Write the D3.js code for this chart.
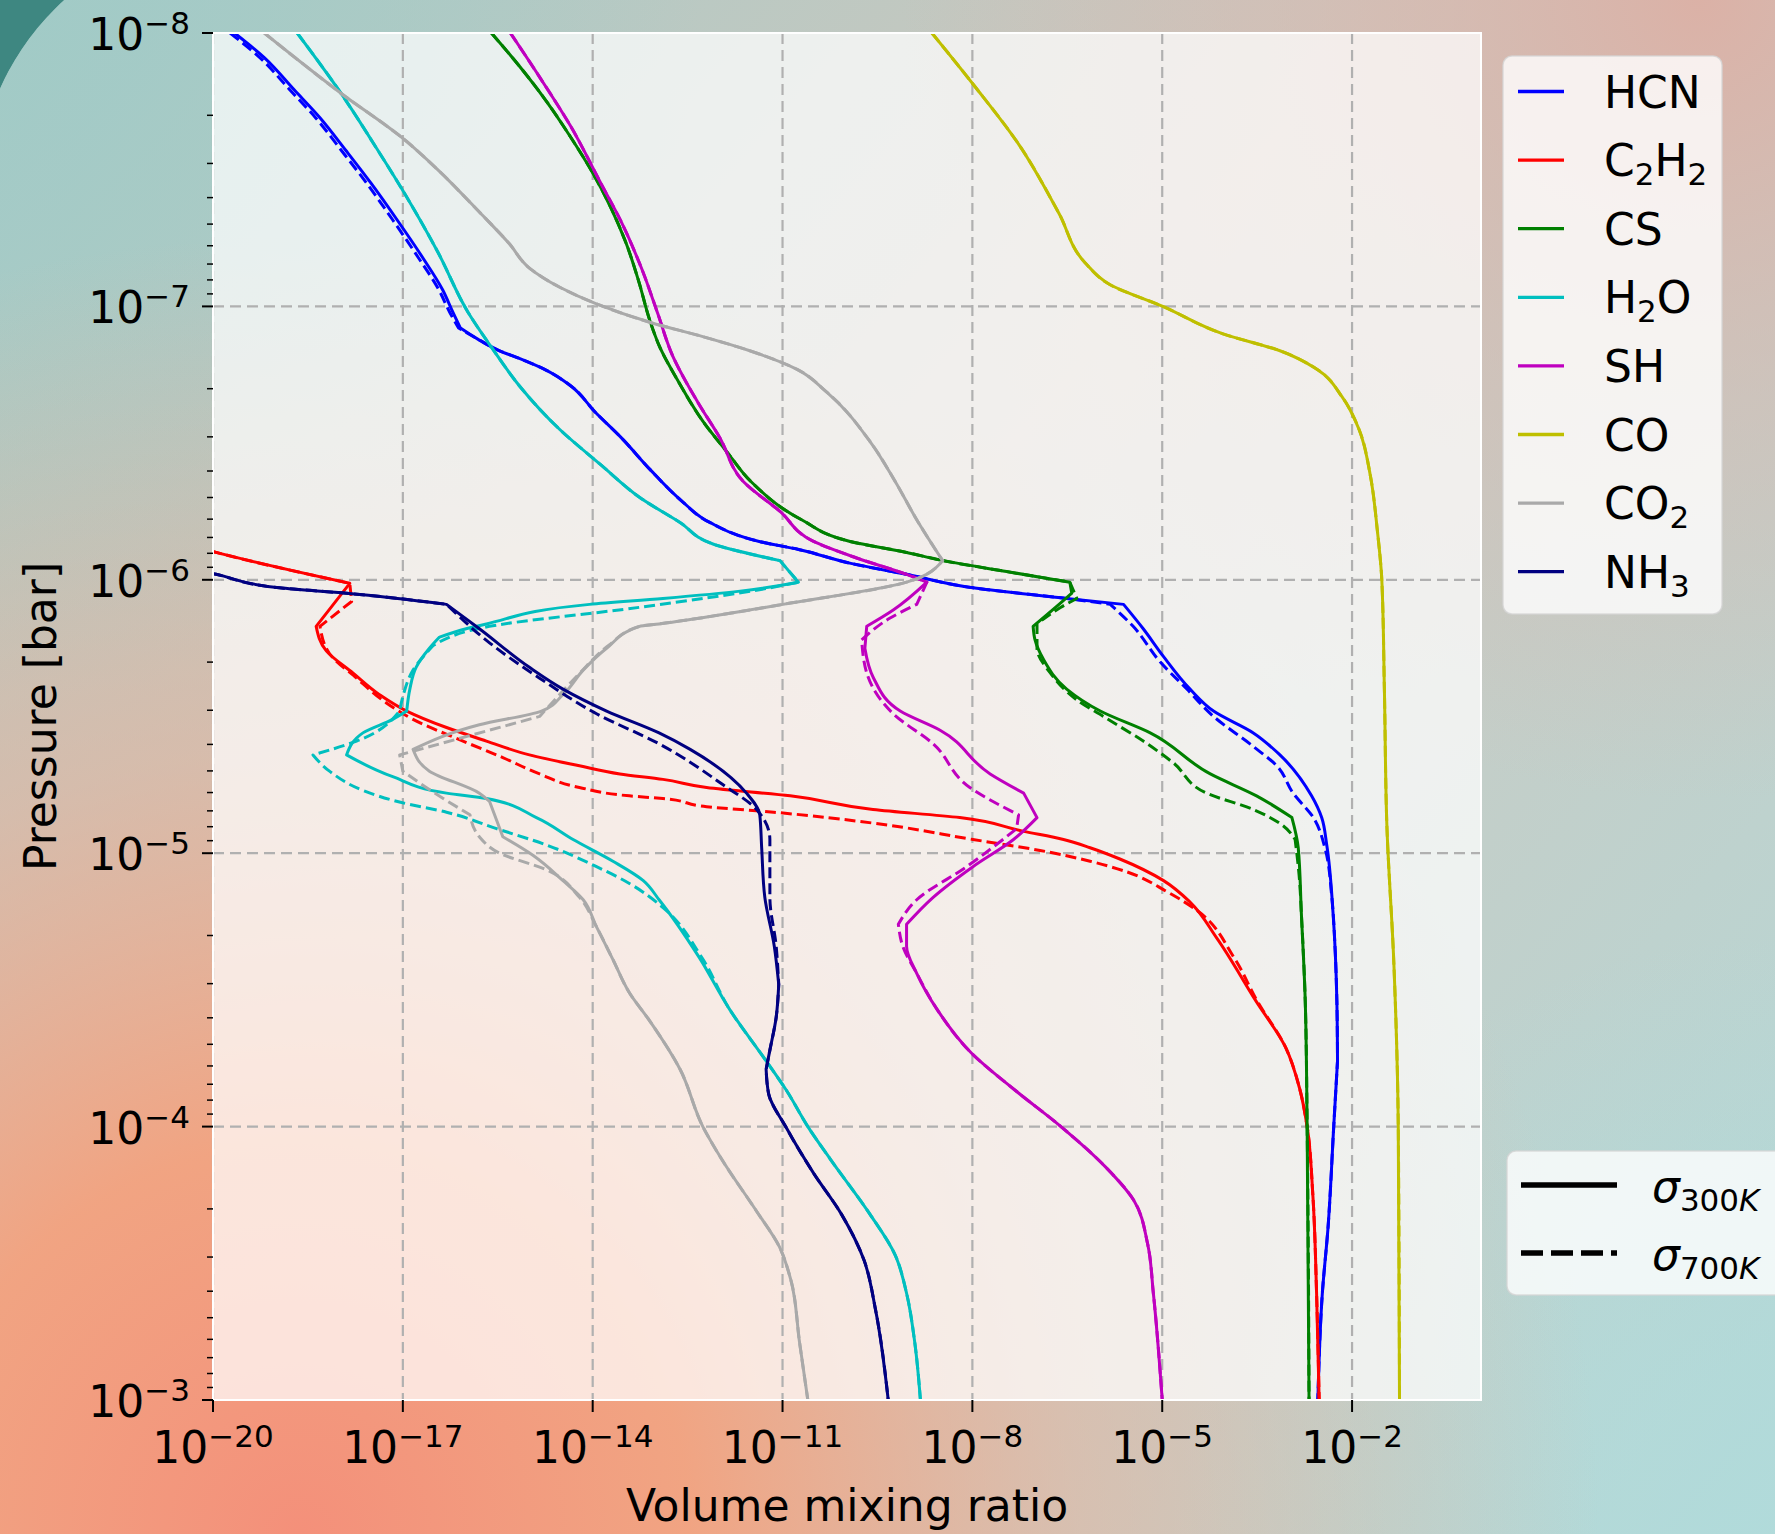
<!DOCTYPE html>
<html>
<head>
<meta charset="utf-8">
<script src="https://cdn.jsdelivr.net/npm/d3@7"></script>
<style>
  html, body { margin: 0; padding: 0; background: #3e8781; }
  svg { display: block; }
  text { font-family: "DejaVu Sans", sans-serif; fill: #000; }
</style>
</head>
<body>
<svg id="chart" width="1775" height="1534"></svg>
<script>
// ---------------------------------------------------------------------------
// Vertical mixing-ratio profiles: [pressure (bar), volume mixing ratio]
// "UPPER" segments are common to both opacity cases, the 300K / 700K
// segments hold the parts where the two cases differ.
// ---------------------------------------------------------------------------
const HCN_TOP_300K = [[1e-8,2.19e-20],[1.23e-8,6.46e-20],[1.62e-8,1.95e-19],[2.04e-8,4.9e-19],[2.69e-8,1.26e-18],[3.55e-8,3.16e-18],[4.79e-8,7.94e-18],[6.61e-8,2.04e-17],[8.71e-8,4.27e-17],[1.05e-7,6.17e-17],[1.2e-7,8.13e-17]];
const HCN_TOP_700K = [[1e-8,1.86e-20],[1.23e-8,5.5e-20],[1.62e-8,1.66e-19],[2.04e-8,4.17e-19],[2.69e-8,1.07e-18],[3.55e-8,2.69e-18],[4.79e-8,6.76e-18],[6.61e-8,1.74e-17],[8.71e-8,3.72e-17],[1.05e-7,5.5e-17],[1.2e-7,7.59e-17]];
const HCN_UPPER = [[1.32e-7,1.55e-16],[1.45e-7,3.31e-16],[1.55e-7,6.92e-16],[1.7e-7,1.74e-15],[1.95e-7,4.47e-15],[2.45e-7,1.12e-14],[3.02e-7,2.82e-14],[3.98e-7,8.32e-14],[5.13e-7,2.51e-13],[6.17e-7,7.08e-13],[7.24e-7,4.27e-12],[7.76e-7,1.86e-11],[8.71e-7,1.2e-10],[9.55e-7,9.12e-10],[1.07e-6,1.02e-8],[1.17e-6,3.09e-7]];
const HCN_300K = [[1.23e-6,2.45e-6],[1.51e-6,5.01e-6],[1.91e-6,1.05e-5],[2.51e-6,2.75e-5],[3.02e-6,6.46e-5],[3.63e-6,2.75e-4],[4.37e-6,7.24e-4],[6.17e-6,2.29e-3],[7.41e-6,3.31e-3],[9.33e-6,3.98e-3],[1.66e-5,5.01e-3],[3.47e-5,5.75e-3],[5.75e-5,5.89e-3],[1e-4,5.13e-3],[2.34e-4,4.17e-3],[4.07e-4,3.39e-3],[1e-3,2.88e-3]];
const HCN_700K = [[1.23e-6,1.51e-6],[1.48e-6,3.47e-6],[2.0e-6,9.33e-6],[2.51e-6,2.45e-5],[3.16e-6,6.46e-5],[4.07e-6,2.75e-4],[4.79e-6,6.46e-4],[6.03e-6,1.17e-3],[7.41e-6,2.45e-3],[9.55e-6,3.72e-3],[1.45e-5,4.79e-3],[2.19e-5,5.37e-3],[3.47e-5,5.75e-3],[5.75e-5,5.89e-3],[1e-4,5.13e-3],[2.34e-4,4.17e-3],[4.07e-4,3.39e-3],[1e-3,2.88e-3]];

const C2H2_UPPER = [[6.76e-7,1e-21],[7.94e-7,1.12e-20],[1.03e-6,1.45e-18]];
const C2H2_300K = [[1.48e-6,4.27e-19],[1.82e-6,6.17e-19],[2.19e-6,1.62e-18],[2.63e-6,4.27e-18],[3.02e-6,1.15e-17],[3.47e-6,4.9e-17],[3.89e-6,2.09e-16],[4.37e-6,1e-15],[4.79e-6,6.17e-15],[5.13e-6,2.69e-14],[5.37e-6,1.29e-13],[5.75e-6,6.31e-13],[6.17e-6,1.32e-11],[6.92e-6,2.69e-10],[7.41e-6,6.31e-9],[8.32e-6,6.46e-8],[8.91e-6,2.75e-7],[9.55e-6,7.24e-7],[1.05e-5,2.14e-6],[1.26e-5,1.05e-5],[1.51e-5,2.75e-5],[2.04e-5,7.24e-5],[3.47e-5,3.02e-4],[5.13e-5,8.91e-4],[7.24e-5,1.48e-3],[1e-4,1.95e-3],[1.78e-4,2.4e-3],[4.07e-4,2.75e-3],[1e-3,3.02e-3]];
const C2H2_700K = [[1.2e-6,1.55e-18],[1.48e-6,4.9e-19],[1.86e-6,6.92e-19],[2.29e-6,1.86e-18],[2.82e-6,5.5e-18],[3.24e-6,1.45e-17],[3.89e-6,8.91e-17],[4.47e-6,3.8e-16],[5.13e-6,1.45e-15],[5.75e-6,6.17e-15],[6.17e-6,3.8e-14],[6.31e-6,1.29e-13],[6.76e-6,6.31e-13],[7.08e-6,7.24e-12],[7.76e-6,2.69e-10],[8.91e-6,1.02e-8],[9.77e-6,1.17e-7],[1.07e-5,7.24e-7],[1.17e-5,2.75e-6],[1.38e-5,1.17e-5],[1.62e-5,3.55e-5],[2.4e-5,1.35e-4],[3.47e-5,3.16e-4],[5.13e-5,8.91e-4],[7.24e-5,1.48e-3],[1e-4,1.95e-3],[1.78e-4,2.4e-3],[4.07e-4,2.75e-3],[1e-3,3.02e-3]];

const CS_UPPER = [[1e-8,2.51e-16],[1.32e-8,6.92e-16],[1.74e-8,1.74e-15],[2.4e-8,4.47e-15],[3.16e-8,9.33e-15],[4.37e-8,1.95e-14],[5.89e-8,3.39e-14],[8.13e-8,5.37e-14],[1.12e-7,7.94e-14],[1.41e-7,1.15e-13],[1.86e-7,2.19e-13],[2.63e-7,5.5e-13],[3.47e-7,1.41e-12],[4.37e-7,3.16e-12],[6.03e-7,2.0e-11],[7.24e-7,1.17e-10],[7.94e-7,9.12e-10],[8.51e-7,3.47e-9],[9.33e-7,3.47e-8],[1.02e-6,3.47e-7]];
const CS_300K = [[1.12e-6,3.72e-7],[1.23e-6,2.34e-7],[1.48e-6,9.12e-8],[1.66e-6,9.77e-8],[1.95e-6,1.32e-7],[2.51e-6,3.09e-7],[3.02e-6,1.05e-6],[3.63e-6,6.46e-6],[5.13e-6,5.75e-5],[6.17e-6,3.09e-4],[7.41e-6,1.12e-3],[9.55e-6,1.41e-3],[1.66e-5,1.58e-3],[3.47e-5,1.82e-3],[1e-4,1.95e-3],[1e-3,2.09e-3]];
const CS_700K = [[1.17e-6,4.47e-7],[1.26e-6,2.51e-7],[1.45e-6,1.05e-7],[1.78e-6,1.05e-7],[2.19e-6,1.7e-7],[2.75e-6,4.47e-7],[3.16e-6,1.17e-6],[3.89e-6,5.01e-6],[4.68e-6,1.51e-5],[6.03e-6,5.01e-5],[6.92e-6,2.75e-4],[7.94e-6,8.13e-4],[8.91e-6,1.26e-3],[1.26e-5,1.48e-3],[1.66e-5,1.58e-3],[3.47e-5,1.82e-3],[1e-4,1.95e-3],[1e-3,2.09e-3]];

const H2O_UPPER = [[1e-8,2.14e-19],[1.66e-8,1.05e-18],[2.63e-8,3.8e-18],[3.98e-8,1.15e-17],[6.31e-8,3.55e-17],[1.05e-7,1.07e-16],[1.41e-7,2.51e-16],[1.95e-7,6.92e-16],[2.82e-7,3.02e-15],[3.8e-7,1.35e-14],[5.01e-7,5.62e-14],[6.17e-7,2.4e-13],[7.41e-7,8.13e-13],[8.51e-7,9.12e-12],[1.02e-6,1.78e-11]];
const H2O_300K = [[1.1e-6,2.14e-12],[1.17e-6,1.29e-13],[1.23e-6,8.91e-15],[1.45e-6,2.09e-16],[1.51e-6,1e-16],[1.62e-6,3.8e-17],[1.78e-6,2.63e-17],[2.09e-6,1.62e-17],[2.51e-6,1.29e-17],[3.02e-6,1.15e-17],[3.24e-6,6.92e-18],[3.63e-6,2.34e-18],[4.37e-6,1.29e-18],[5.25e-6,6.92e-18],[6.03e-6,4.9e-17],[6.31e-6,2.09e-16],[7.41e-6,1.29e-15],[8.91e-6,4.9e-15],[1.07e-5,2.09e-14],[1.26e-5,6.31e-14],[1.48e-5,1.12e-13],[2.4e-5,4.79e-13],[3.72e-5,1.45e-12],[5.62e-5,5.13e-12],[7.41e-5,1.17e-11],[1e-4,2.51e-11],[1.32e-4,5.75e-11],[2.09e-4,2.4e-10],[2.95e-4,6.03e-10],[4.07e-4,9.12e-10],[6.17e-4,1.23e-9],[1e-3,1.51e-9]];
const H2O_700K = [[1.07e-6,6.31e-12],[1.26e-6,5.62e-14],[1.48e-6,2.34e-16],[1.74e-6,3.02e-17],[2.14e-6,1.45e-17],[2.63e-6,1.02e-17],[3.02e-6,8.91e-18],[3.89e-6,1.86e-18],[4.37e-6,3.8e-19],[5.01e-6,6.92e-19],[5.89e-6,2.34e-18],[6.46e-6,7.94e-18],[7.08e-6,4.9e-17],[8.13e-6,3.02e-16],[9.33e-6,1.86e-15],[1.12e-5,1.15e-14],[1.29e-5,3.8e-14],[1.58e-5,1.29e-13],[2.4e-5,5.25e-13],[3.72e-5,1.45e-12],[5.62e-5,5.13e-12],[7.41e-5,1.17e-11],[1e-4,2.51e-11],[1.32e-4,5.75e-11],[2.09e-4,2.4e-10],[2.95e-4,6.03e-10],[4.07e-4,9.12e-10],[6.17e-4,1.23e-9],[1e-3,1.51e-9]];

const SH_UPPER = [[1e-8,5.01e-16],[1.45e-8,1.45e-15],[2.19e-8,4.47e-15],[3.55e-8,1.35e-14],[4.9e-8,2.82e-14],[7.24e-8,5.89e-14],[1.05e-7,1.05e-13],[1.51e-7,1.82e-13],[2.24e-7,4.57e-13],[3.02e-7,1.02e-12],[4.37e-7,2.4e-12],[5.62e-7,9.12e-12],[7.24e-7,3.09e-11],[8.32e-7,1.48e-10],[9.55e-7,9.12e-10],[1.02e-6,1.91e-9]];
const SH_300K = [[1.29e-6,5.62e-10],[1.48e-6,2.14e-10],[1.78e-6,2.0e-10],[2.29e-6,2.75e-10],[3.02e-6,7.24e-10],[3.55e-6,3.09e-9],[5.13e-6,1.91e-8],[6.03e-6,6.46e-8],[7.41e-6,1.05e-7],[8.91e-6,4.47e-8],[1.12e-5,1.02e-8],[1.45e-5,2.4e-9],[1.82e-5,9.12e-10],[2.19e-5,9.12e-10],[2.75e-5,1.32e-9],[3.72e-5,2.75e-9],[5.37e-5,9.55e-9],[7.41e-5,4.9e-8],[1e-4,2.51e-7],[1.41e-4,1.29e-6],[1.86e-4,3.55e-6],[2.69e-4,5.89e-6],[4.07e-4,7.24e-6],[1e-3,1e-5]];
const SH_700K = [[1.23e-6,1.32e-9],[1.38e-6,5.01e-10],[1.66e-6,1.78e-10],[2.19e-6,2.14e-10],[3.09e-6,5.62e-10],[3.98e-6,2.4e-9],[5.75e-6,9.12e-9],[7.24e-6,5.37e-8],[8.13e-6,5.01e-8],[1.12e-5,8.13e-9],[1.48e-5,1.32e-9],[1.82e-5,6.76e-10],[2.19e-5,7.94e-10],[2.75e-5,1.32e-9],[3.72e-5,2.75e-9],[5.37e-5,9.55e-9],[7.41e-5,4.9e-8],[1e-4,2.51e-7],[1.41e-4,1.29e-6],[1.86e-4,3.55e-6],[2.69e-4,5.89e-6],[4.07e-4,7.24e-6],[1e-3,1e-5]];

const CO_PROFILE = [[1e-8,2.29e-9],[1.55e-8,1.05e-8],[2.57e-8,5.5e-8],[4.57e-8,2.34e-7],[6.92e-8,6.03e-7],[8.32e-8,1.48e-6],[1e-7,1.02e-5],[1.26e-7,9.12e-5],[1.45e-7,7.08e-4],[1.7e-7,2.82e-3],[2.14e-7,6.92e-3],[2.82e-7,1.29e-2],[4.17e-7,1.95e-2],[6.61e-7,2.51e-2],[1e-6,2.95e-2],[2.51e-6,3.24e-2],[7.94e-6,3.55e-2],[2.51e-5,4.57e-2],[1e-4,5.37e-2],[1e-3,5.62e-2]];

const CO2_UPPER = [[1e-8,6.46e-20],[1.66e-8,1.05e-18],[2.45e-8,1.05e-17],[3.16e-8,3.55e-17],[4.47e-8,1.55e-16],[5.89e-8,4.79e-16],[7.24e-8,1e-15],[8.51e-8,3.02e-15],[9.77e-8,1.12e-14],[1.15e-7,8.71e-14],[1.29e-7,5.5e-13],[1.45e-7,2.95e-12],[1.7e-7,1.7e-11],[2.04e-7,4.79e-11],[3.16e-7,2.51e-10],[4.37e-7,6.03e-10],[6.03e-7,1.32e-9],[8.51e-7,3.39e-9],[1.02e-6,9.12e-10],[1.23e-6,1.02e-11],[1.32e-6,1.66e-12],[1.45e-6,1.12e-13],[1.48e-6,5.5e-14]];
const CO2_300K = [[1.78e-6,1.66e-14],[2.14e-6,7.08e-15],[2.63e-6,3.39e-15],[3.02e-6,1.55e-15],[3.39e-6,1.62e-16],[4.17e-6,1.45e-17],[5.01e-6,2.63e-17],[6.03e-6,1.62e-16],[6.46e-6,2.34e-16],[8.71e-6,3.8e-16],[1.02e-5,1.15e-15],[1.26e-5,3.39e-15],[1.48e-5,7.08e-15],[1.86e-5,1.15e-14],[2.45e-5,2.09e-14],[3.24e-5,3.8e-14],[4.07e-5,7.76e-14],[6.17e-5,2.4e-13],[1e-4,5.5e-13],[1.32e-4,1.1e-12],[2.04e-4,3.89e-12],[2.75e-4,8.91e-12],[3.63e-4,1.35e-11],[6.17e-4,1.86e-11],[1e-3,2.51e-11]];
const CO2_700K = [[1.74e-6,1.78e-14],[2.19e-6,6.31e-15],[2.75e-6,2.51e-15],[3.16e-6,1.45e-15],[4.37e-6,8.91e-18],[5.01e-6,1e-17],[5.75e-6,2.34e-17],[7.24e-6,1.15e-16],[8.71e-6,1.62e-16],[1e-5,3.39e-16],[1.15e-5,1.86e-15],[1.45e-5,6.17e-15],[1.86e-5,1.15e-14],[2.45e-5,2.09e-14],[3.24e-5,3.8e-14],[4.07e-5,7.76e-14],[6.17e-5,2.4e-13],[1e-4,5.5e-13],[1.32e-4,1.1e-12],[2.04e-4,3.89e-12],[2.75e-4,8.91e-12],[3.63e-4,1.35e-11],[6.17e-4,1.86e-11],[1e-3,2.51e-11]];

const NH3_UPPER = [[7.59e-7,1e-22],[9.55e-7,1.12e-20],[1.07e-6,1.12e-19],[1.12e-6,1.29e-18],[1.23e-6,4.9e-17]];
const NH3_300K = [[1.51e-6,1.62e-16],[2.09e-6,1e-15],[2.51e-6,3.39e-15],[3.02e-6,1.66e-14],[3.63e-6,1.12e-13],[4.17e-6,3.47e-13],[6.03e-6,2.69e-12],[7.24e-6,4.37e-12],[9.55e-6,4.68e-12],[1.45e-5,5.25e-12],[2.19e-5,7.41e-12],[3.02e-5,8.71e-12],[3.98e-5,7.94e-12],[5.25e-5,6.31e-12],[6.17e-5,5.5e-12],[7.59e-5,6.03e-12],[1e-4,1.12e-11],[1.48e-4,3.09e-11],[2.09e-4,8.51e-11],[3.09e-4,1.95e-10],[4.68e-4,2.95e-10],[1e-3,4.68e-10]];
const NH3_700K = [[1.7e-6,2.34e-16],[2.29e-6,1.45e-15],[3.09e-6,1.15e-14],[3.98e-6,1.12e-13],[5.62e-6,1.15e-12],[6.92e-6,3.89e-12],[8.91e-6,6.31e-12],[1.45e-5,6.31e-12],[2.19e-5,7.94e-12],[3.02e-5,8.71e-12],[3.98e-5,7.94e-12],[5.25e-5,6.31e-12],[6.17e-5,5.5e-12],[7.59e-5,6.03e-12],[1e-4,1.12e-11],[1.48e-4,3.09e-11],[2.09e-4,8.51e-11],[3.09e-4,1.95e-10],[4.68e-4,2.95e-10],[1e-3,4.68e-10]];

// Species order, legend labels and line colours
const SPECIES = ["HCN", "C2H2", "CS", "H2O", "SH", "CO", "CO2", "NH3"];
const COLORS  = ["#0000ff", "#ff0000", "#008000", "#00bfbf", "#bf00bf", "#bfbf00", "#a9a9a9", "#000080"];

// Axis ticks
const X_TICKS = [1e-20, 1e-17, 1e-14, 1e-11, 1e-8, 1e-5, 1e-2];
const Y_TICKS = [1e-8, 1e-7, 1e-6, 1e-5, 1e-4, 1e-3];
const Y_MINOR_MANTISSAS = [2, 3, 4, 5, 6, 7, 8, 9];

// Opacity cases (second legend)
const CASES = [{ key: "300", dash: null }, { key: "700", dash: "dashed" }];

// ---------------------------------------------------------------------------
const PROFILES = {
  HCN:  { "300": HCN_TOP_300K.concat(HCN_UPPER, HCN_300K), "700": HCN_TOP_700K.concat(HCN_UPPER, HCN_700K) },
  C2H2: { "300": C2H2_UPPER.concat(C2H2_300K), "700": C2H2_UPPER.concat(C2H2_700K) },
  CS:   { "300": CS_UPPER.concat(CS_300K),     "700": CS_UPPER.concat(CS_700K) },
  H2O:  { "300": H2O_UPPER.concat(H2O_300K),   "700": H2O_UPPER.concat(H2O_700K) },
  SH:   { "300": SH_UPPER.concat(SH_300K),     "700": SH_UPPER.concat(SH_700K) },
  CO:   { "300": CO_PROFILE,                   "700": CO_PROFILE },
  CO2:  { "300": CO2_UPPER.concat(CO2_300K),   "700": CO2_UPPER.concat(CO2_700K) },
  NH3:  { "300": NH3_UPPER.concat(NH3_300K),   "700": NH3_UPPER.concat(NH3_700K) }
};

const W = 1775, H = 1534;
const P = { left: 213, top: 33, right: 1481, bottom: 1400 };
const FONT = 44, SUB = 31;

const svg = d3.select("#chart");
const defs = svg.append("defs");

// ---- backdrop ------------------------------------------------------------
const base = defs.append("linearGradient").attr("id", "bgBase")
  .attr("gradientUnits", "userSpaceOnUse")
  .attr("x1", 0).attr("y1", 0).attr("x2", W).attr("y2", H);
[[0, "#a6ccc8"], [0.45, "#cfc6bd"], [1, "#b4d9d8"]].forEach(([o, c]) =>
  base.append("stop").attr("offset", o).attr("stop-color", c));

function radial(id, cx, cy, r, stops) {
  const g = defs.append("radialGradient").attr("id", id)
    .attr("gradientUnits", "userSpaceOnUse")
    .attr("cx", cx).attr("cy", cy).attr("r", r);
  stops.forEach(([o, c, a]) => g.append("stop").attr("offset", o)
    .attr("stop-color", c).attr("stop-opacity", a));
}
radial("bgWarm", 300, 1534, 1300, [[0, "#f4907a", 1], [0.3, "#f3a27f", 0.95], [0.6, "#eab29a", 0.55], [1, "#eab29a", 0]]);
radial("bgRose", 1700, 0, 800, [[0, "#dcb0a5", 0.95], [0.5, "#d6b9b0", 0.5], [1, "#d6b9b0", 0]]);
radial("bgTeal", 0, 0, 700, [[0, "#a0cac6", 0.85], [1, "#a0cac6", 0]]);
radial("bgTealBR", 1775, 1534, 600, [[0, "#b0dbdb", 0.8], [1, "#b0dbdb", 0]]);

// light panel with a single rounded corner at the top left
defs.append("clipPath").attr("id", "panelClip")
  .append("path")
  .attr("d", `M-23,197 A266,266 0 0 1 243,-69 L${W + 50},-69 L${W + 50},${H + 50} L-23,${H + 50} Z`);
defs.append("clipPath").attr("id", "plotClip")
  .append("rect").attr("x", P.left).attr("y", P.top)
  .attr("width", P.right - P.left).attr("height", P.bottom - P.top);

svg.append("rect").attr("width", W).attr("height", H).attr("fill", "#3e8781");
const panel = svg.append("g").attr("clip-path", "url(#panelClip)");
["bgBase", "bgTeal", "bgRose", "bgTealBR", "bgWarm"].forEach(id =>
  panel.append("rect").attr("width", W).attr("height", H).attr("fill", `url(#${id})`));

// ---- scales --------------------------------------------------------------
const x = d3.scaleLog().domain([1e-20, 1.09]).range([P.left, P.right]);
const y = d3.scaleLog().domain([1e-8, 1e-3]).range([P.top, P.bottom]);

// axes face
svg.append("rect").attr("x", P.left).attr("y", P.top)
  .attr("width", P.right - P.left).attr("height", P.bottom - P.top)
  .attr("fill", "#ffffff").attr("fill-opacity", 0.72);

// ---- grid ----------------------------------------------------------------
const grid = svg.append("g").attr("stroke", "#b0b0b0").attr("stroke-width", 2.2)
  .attr("stroke-dasharray", "11,6").attr("fill", "none");
grid.selectAll("line.gx").data(X_TICKS).join("line")
  .attr("x1", d => x(d)).attr("x2", d => x(d)).attr("y1", P.top).attr("y2", P.bottom);
grid.selectAll("line.gy").data(Y_TICKS).join("line")
  .attr("y1", d => y(d)).attr("y2", d => y(d)).attr("x1", P.left).attr("x2", P.right);

// ---- profiles ------------------------------------------------------------
// Smooth monotone interpolation between levels, but keep sharp corners where a
// profile turns back or bends abruptly: the profile is split there into
// pieces that are joined into a single continuous path.
const smooth = d3.line().x(d => x(d[1])).y(d => y(d[0])).curve(d3.curveMonotoneY);
function profilePath(pts) {
  const sx = pts.map(d => x(d[1])), sy = pts.map(d => y(d[0]));
  const cuts = [0];
  for (let i = 1; i < pts.length - 1; i++) {
    const a1 = Math.atan2(sy[i] - sy[i - 1], sx[i] - sx[i - 1]);
    const a2 = Math.atan2(sy[i + 1] - sy[i], sx[i + 1] - sx[i]);
    let da = Math.abs(a2 - a1);
    if (da > Math.PI) da = 2 * Math.PI - da;
    const turns = (sx[i] - sx[i - 1]) * (sx[i + 1] - sx[i]) < 0;
    if (turns || da > 30 * Math.PI / 180) cuts.push(i);
  }
  cuts.push(pts.length - 1);
  let d = "";
  for (let k = 0; k < cuts.length - 1; k++) {
    let s = smooth(pts.slice(cuts[k], cuts[k + 1] + 1));
    if (k > 0) s = "L" + s.slice(1);
    d += s;
  }
  return d;
}

const lines = svg.append("g").attr("clip-path", "url(#plotClip)").attr("fill", "none");
SPECIES.forEach((sp, i) => {
  CASES.forEach(cs => {
    lines.append("path")
      .attr("d", profilePath(PROFILES[sp][cs.key]))
      .attr("stroke", COLORS[i])
      .attr("stroke-width", 3)
      .attr("stroke-linejoin", "round")
      .attr("stroke-dasharray", cs.dash ? "11,5" : null);
  });
});

// ---- spines --------------------------------------------------------------
svg.append("rect").attr("x", P.left).attr("y", P.top)
  .attr("width", P.right - P.left).attr("height", P.bottom - P.top)
  .attr("fill", "none").attr("stroke", "#ffffff").attr("stroke-width", 2);

// ---- ticks & labels ------------------------------------------------------
function powerLabel(sel, v) {
  const e = Math.round(Math.log10(v));
  sel.append("tspan").text("10");
  sel.append("tspan").attr("dy", -16).attr("font-size", SUB)
    .text((e < 0 ? "\u2212" : "") + Math.abs(e));
}

const axes = svg.append("g");
// x axis
X_TICKS.forEach(v => {
  axes.append("line").attr("x1", x(v)).attr("x2", x(v))
    .attr("y1", P.bottom).attr("y2", P.bottom + 12)
    .attr("stroke", "#000").attr("stroke-width", 2);
  const t = axes.append("text").attr("x", x(v)).attr("y", 1463)
    .attr("text-anchor", "middle").attr("font-size", FONT);
  powerLabel(t, v);
});
// y axis, major
Y_TICKS.forEach(v => {
  axes.append("line").attr("x1", P.left - 11).attr("x2", P.left)
    .attr("y1", y(v)).attr("y2", y(v))
    .attr("stroke", "#000").attr("stroke-width", 2);
  const t = axes.append("text").attr("x", 190).attr("y", y(v) + 17)
    .attr("text-anchor", "end").attr("font-size", FONT);
  powerLabel(t, v);
});
// y axis, minor
Y_TICKS.slice(0, -1).forEach(dec => {
  Y_MINOR_MANTISSAS.forEach(m => {
    const v = dec * m;
    axes.append("line").attr("x1", P.left - 6).attr("x2", P.left)
      .attr("y1", y(v)).attr("y2", y(v))
      .attr("stroke", "#000").attr("stroke-width", 1.5);
  });
});

svg.append("text").attr("x", (P.left + P.right) / 2).attr("y", 1521)
  .attr("text-anchor", "middle").attr("font-size", FONT).text("Volume mixing ratio");
svg.append("text").attr("transform", `translate(56,${(P.top + P.bottom) / 2}) rotate(-90)`)
  .attr("text-anchor", "middle").attr("font-size", FONT).text("Pressure [bar]");

// ---- species legend ------------------------------------------------------
function formula(sel, label) {
  let sub = false;
  for (const ch of label) {
    const digit = /[0-9]/.test(ch);
    const t = sel.append("tspan").text(ch);
    if (digit) {
      t.attr("font-size", SUB);
      if (!sub) { t.attr("dy", 9); sub = true; }
    } else if (sub) {
      t.attr("dy", -9); sub = false;
    }
  }
}

const leg = svg.append("g");
leg.append("rect").attr("x", 1503).attr("y", 56).attr("width", 219).attr("height", 558)
  .attr("rx", 9).attr("fill", "#ffffff").attr("fill-opacity", 0.8)
  .attr("stroke", "#d4d4d4").attr("stroke-opacity", 0.8).attr("stroke-width", 1.5);
SPECIES.forEach((sp, i) => {
  const cy = 91.5 + i * 68.6;
  leg.append("line").attr("x1", 1518).attr("x2", 1564).attr("y1", cy).attr("y2", cy)
    .attr("stroke", COLORS[i]).attr("stroke-width", 3.3);
  const t = leg.append("text").attr("x", 1604).attr("y", cy + 16).attr("font-size", FONT);
  formula(t, sp);
});

// ---- opacity-case legend -------------------------------------------------
const leg2 = svg.append("g");
leg2.append("rect").attr("x", 1507).attr("y", 1151).attr("width", 300).attr("height", 144)
  .attr("rx", 9).attr("fill", "#ffffff").attr("fill-opacity", 0.8)
  .attr("stroke", "#d4d4d4").attr("stroke-opacity", 0.8).attr("stroke-width", 1.5);
CASES.forEach((cs, i) => {
  const cy = 1185 + i * 68;
  leg2.append("line").attr("x1", 1521).attr("x2", 1617).attr("y1", cy).attr("y2", cy)
    .attr("stroke", "#000").attr("stroke-width", 5.5)
    .attr("stroke-dasharray", cs.dash ? "22,8" : null);
  const t = leg2.append("text").attr("x", 1652).attr("y", cy + 17).attr("font-size", FONT);
  t.append("tspan").attr("font-style", "italic").text("\u03c3");
  t.append("tspan").attr("dy", 9).attr("font-size", SUB).text(cs.key);
  t.append("tspan").attr("font-size", SUB).attr("font-style", "italic").text("K");
});
</script>
</body>
</html>
